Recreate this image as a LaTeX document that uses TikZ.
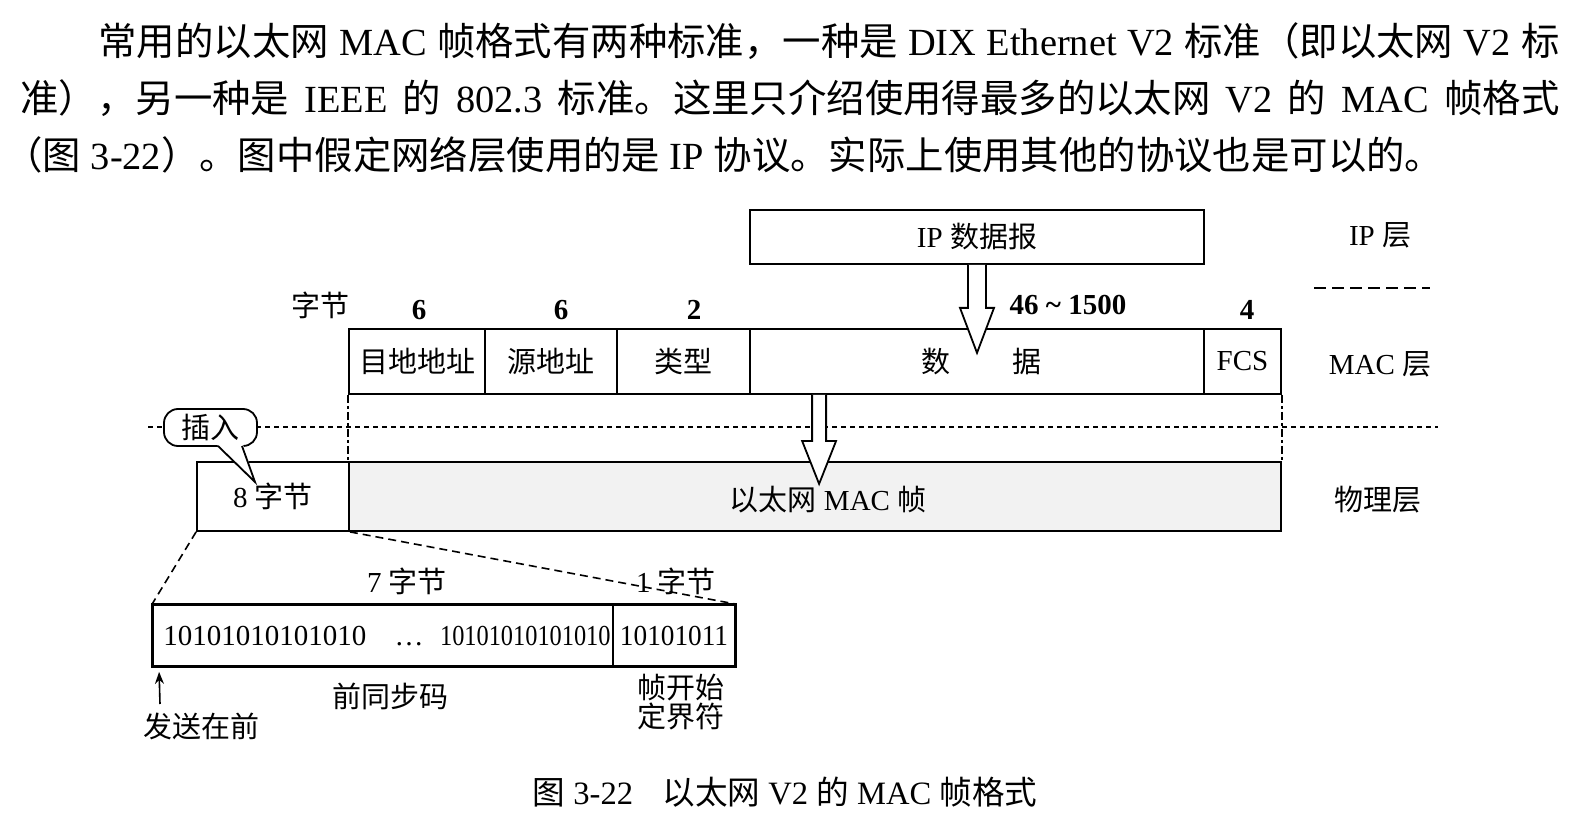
\documentclass[tikz,border=0pt]{standalone}
\usepackage{fontspec}
\usepackage{graphicx}
\setmainfont{Liberation Serif}
\newfontfamily\cjk{Noto Sans CJK SC}
\usetikzlibrary{arrows.meta,calc}
\newcommand\diagfont{\fontsize{14.5}{17}\selectfont}
\newcommand\parafont{\fontsize{19.2}{22}\selectfont}
\newcommand\capfont{\fontsize{16.3}{19}\selectfont}
\begin{document}
\begin{tikzpicture}[x=0.5pt,y=-0.5pt,
  box/.style={draw, line width=0.9pt, inner sep=0pt, font=\diagfont},
  lbl/.style={inner sep=0pt, font=\diagfont},
  num/.style={inner sep=0pt, font=\diagfont\bfseries},
  hollow/.style={draw, line width=0.9pt, fill=white, line join=miter},
  dotline/.style={line width=0.7pt, dash pattern=on 2.5pt off 2pt},
  vdash/.style={line width=0.8pt, dash pattern=on 4pt off 1.5pt on 1.5pt off 1.5pt},
  ddash/.style={line width=0.8pt, dash pattern=on 4pt off 2.5pt},
  sepdash/.style={line width=1pt, dash pattern=on 6pt off 3pt},
]
\useasboundingbox (0,0) rectangle (1577,823);

% paragraph
\node[anchor=base west, inner sep=0pt, font=\parafont] (p1) at (98,56)
  {\makebox[730.5pt][s]{{\cjk 常用的以太网} MAC {\cjk 帧格式有两种标准，一种是} DIX Ethernet V2 {\cjk 标准（即以太网} V2 {\cjk 标}}};
\node[anchor=base west, inner sep=0pt, font=\parafont] (p2) at (20,112.5)
  {\makebox[769.5pt][s]{{\cjk 准），另一种是} IEEE {\cjk 的} 802.3 {\cjk 标准。这里只介绍使用得最多的以太网} V2 {\cjk 的} MAC {\cjk 帧格式}}};
\node[anchor=base west, inner sep=0pt, font=\parafont] (p3) at (4,170)
  {{\cjk （图} 3-22{\cjk ）。图中假定网络层使用的是} IP {\cjk 协议。实际上使用其他的协议也是可以的。}};

% IP layer
\node[box, minimum width=227pt, minimum height=27pt] (ip) at (977,237) {IP {\cjk 数据报}};
\node[lbl] (ipL) at (1380,235) {IP {\cjk 层}};
\coordinate (s1) at (1314,288); \coordinate (s2) at (1430,288);
\draw[sepdash] (s1) -- (s2);

% byte counts
\node[lbl] (zj) at (320,305) {\cjk 字节};
\node[num] (n1) at (419,310) {6};
\node[num] (n2) at (561,310) {6};
\node[num] (n3) at (694,310) {2};
\node[num] (n4) at (1068,305) {46 \textasciitilde{} 1500};
\node[num] (n5) at (1247,310) {4};

% MAC frame
\node[box, minimum width=68pt, minimum height=32.5pt] (dst) at (417,361.5) {\cjk 目地地址};
\node[box, minimum width=66pt, minimum height=32.5pt] (src) at (551,361.5) {\cjk 源地址};
\node[box, minimum width=66.5pt, minimum height=32.5pt] (type) at (683.5,361.5) {\cjk 类型};
\node[box, minimum width=227pt, minimum height=32.5pt] (data) at (977,361.5) {\cjk \hspace{4.5pt}数\hspace{31pt}据};
\node[box, minimum width=38.5pt, minimum height=32.5pt] (fcs) at (1242.5,361.5) {FCS};
\node[lbl] (macL) at (1380,364) {MAC {\cjk 层}};

% layer separator
\coordinate (dl) at (148,427); \coordinate (dr) at (1438,427);
\draw[dotline] (dl) -- (dr);

% physical layer
\node[box, minimum width=76pt, minimum height=34.5pt] (pre8) at (273,496.5) {8 {\cjk 字节}};
\node[box, fill=gray!10, minimum width=466pt, minimum height=34.5pt] (phy) at (815,496.5) {};
\node[lbl] (phyT) at (828,500) {{\cjk 以太网} MAC {\cjk 帧}};
\node[lbl] (phyL) at (1378,500) {\cjk 物理层};

\draw[vdash] (dst.south west) -- (phy.north west);
\draw[vdash] (fcs.south east) -- (phy.north east);

% hollow arrows
\coordinate (a1) at (ip.south);
\draw[hollow] ($(a1)+(-9,0)$) -- ++(0,43) -- ++(-8,0) -- ($(a1)+(0,88)$)
  -- ($(a1)+(17,43)$) -- ++(-8,0) -- ($(a1)+(9,0)$);
\coordinate (a2) at ($(data.south west)+(70,0)$);
\draw[hollow] ($(a2)+(-7,0)$) -- ++(0,46) -- ++(-10,0) -- ($(a2)+(0,89)$)
  -- ($(a2)+(17,46)$) -- ++(-10,0) -- ($(a2)+(7,0)$);

% callout
\node[draw, line width=0.9pt, fill=white, rounded corners=7pt, minimum width=46.5pt,
  minimum height=18.5pt, inner sep=0pt, font=\diagfont] (ins) at (210.5,427.5) {\cjk 插入};
\coordinate (tip) at (255,482);
\fill[white] (217,444.6) -- (tip) -- (243,444.6) -- cycle;
\draw[line width=0.9pt, line join=miter] (218,446) -- (tip) -- (242,446);

% preamble
\node[lbl] (b7) at (407,581) {7 {\cjk 字节}};
\node[lbl] (b1) at (676,581) {1 {\cjk 字节}};
\node[box, minimum width=230pt, minimum height=30.5pt] (pream) at (383,635.5) {};
\node[box, minimum width=61pt, minimum height=30.5pt] (sfd) at (674,635.5) {\scalebox{0.94}[1]{10101011}};
\draw[line width=1.5pt] (pream.north west) rectangle (sfd.south east);
\node[lbl, anchor=base west] (bitsA) at (163,645) {10101010101010};
\node[lbl, anchor=base] (bdots) at (409,645) {\ldots};
\node[lbl, anchor=base east] (bitsB) at (611,645) {\scalebox{0.84}[1]{10101010101010}};

\draw[ddash] (pre8.south west) -- (pream.north west);
\draw[ddash] (pre8.south east) -- (sfd.north east);

% labels below
\node[lbl] (sendL) at (201,726) {\cjk 发送在前};
\coordinate (sa) at (160,704);
\draw[line width=0.8pt, -{Stealth[length=6pt,width=4.5pt]}] (sa) -- ($(pream.south west)+(7,5)$);
\node[lbl] (presL) at (390,696) {\cjk 前同步码};
\node[inner sep=0pt, font=\fontsize{14.5}{14.5}\selectfont\cjk, align=center] (sfdL) at (681,702) {帧开始\\定界符};

% caption
\node[inner sep=0pt, font=\capfont] (cap) at (785,792)
  {{\cjk 图} 3-22\hspace{0.9em}{\cjk 以太网} V2 {\cjk 的} MAC {\cjk 帧格式}};
\end{tikzpicture}
\end{document}
